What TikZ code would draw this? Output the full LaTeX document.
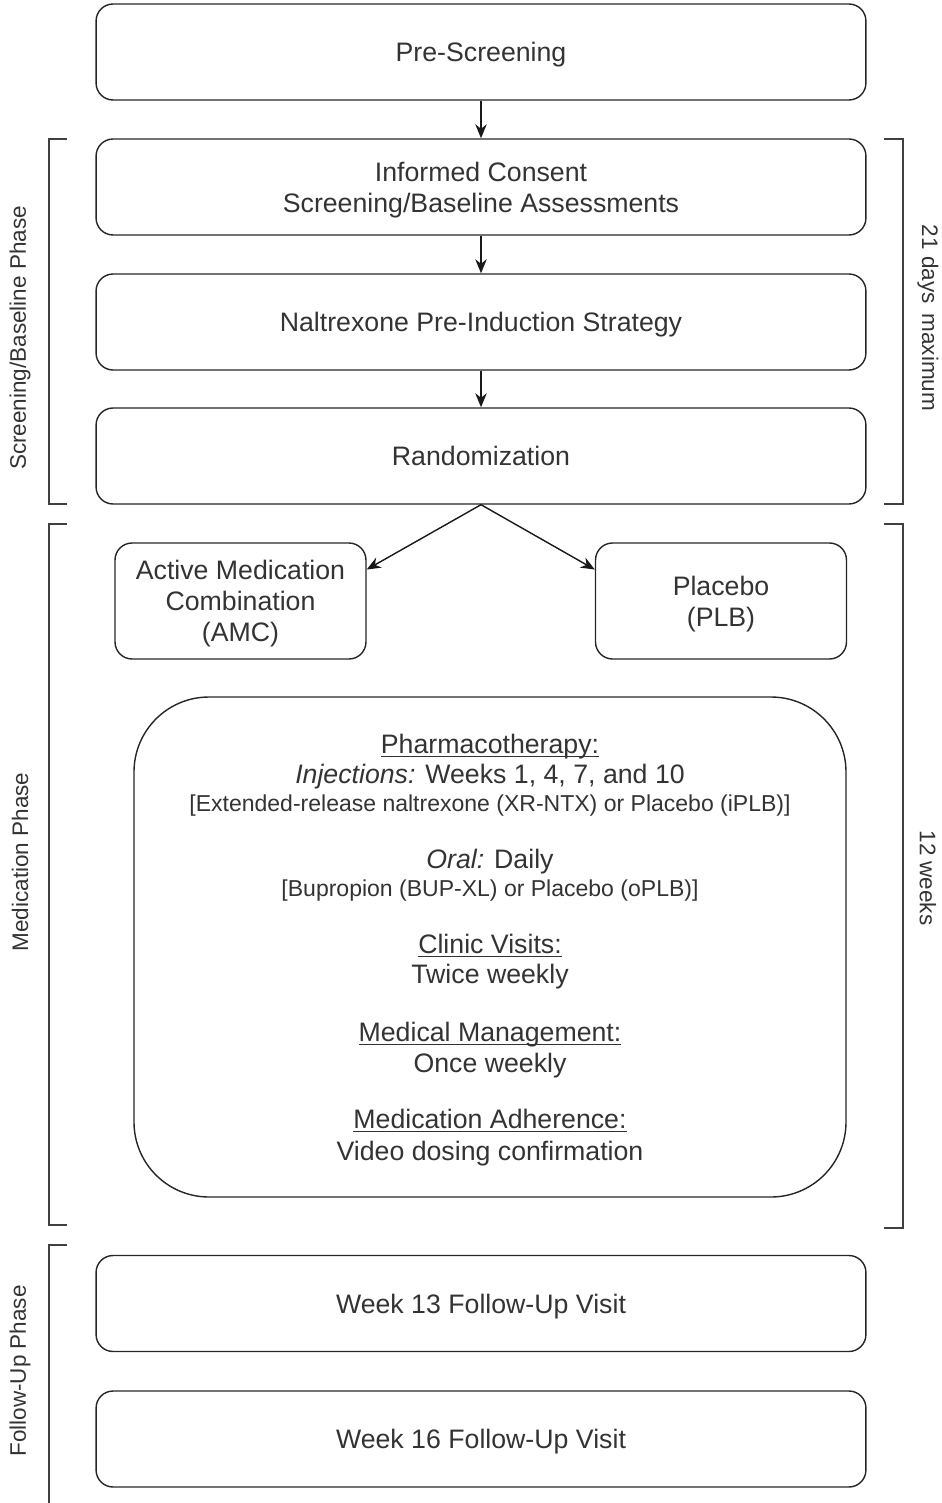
\documentclass[tikz,border=0pt]{standalone}
\usepackage{fontspec}
\setmainfont{Liberation Sans}
\usetikzlibrary{positioning, arrows.meta}

\tikzset{
  stepbox/.style={draw=black!85, line width=0.8pt, rounded corners=0.34cm,
    minimum width=15.4cm, minimum height=1.92cm, align=center, text depth=0pt,
    text=black!80, font=\fontsize{15.2}{17.6}\selectfont},
  armbox/.style={stepbox, minimum width=5.02cm, minimum height=2.32cm},
  infotext/.style={text=black!80, text depth=0pt, font=\fontsize{15.2}{17.6}\selectfont},
  infosmall/.style={text=black!80, text depth=0pt, font=\fontsize{13.1}{15}\selectfont},
  phase/.style={text=black!80, font=\fontsize{12.8}{15}\selectfont},
  brace/.style={draw=black!75, line width=0.9pt},
  flow/.style={draw=black!90, line width=0.8pt, -{Stealth[length=8pt,width=6.5pt]}}
}
\newcommand{\ulabel}[1]{\underline{\smash{#1}}\vphantom{#1}}

\begin{document}
\begin{tikzpicture}[x=0.02cm, y=-0.02cm]
  \useasboundingbox (0,0) rectangle (942,1503);

  % main boxes
  \node[stepbox] (pre) at (481,52) {Pre-Screening};
  \node[stepbox] (consent) at (481,187) {Informed Consent\\Screening/Baseline Assessments};
  \node[stepbox] (induct) at (481,322) {Naltrexone Pre-Induction Strategy};
  \node[stepbox] (random) at (481,456) {Randomization};
  \node[armbox] (amc) at (240.5,601) {Active Medication\\Combination\\(AMC)};
  \node[armbox] (plb) at (721,601) {Placebo\\(PLB)};
  \node[stepbox] (wk13) at (481,1303.5) {Week 13 Follow-Up Visit};
  \node[stepbox] (wk16) at (481,1439) {Week 16 Follow-Up Visit};

  % treatment box
  \draw[draw=black!85, line width=0.8pt, rounded corners=1.5cm] (134,697) rectangle (846,1197);
  \node[infotext] (pharm) at (490,744) {\ulabel{Pharmacotherapy:}};
  \node[infotext] (inj) at (490,774) {\textit{Injections:} Weeks 1, 4, 7, and 10};
  \node[infosmall] (injdet) at (490,803) {[Extended-release naltrexone (XR-NTX) or Placebo (iPLB)]};
  \node[infotext] (oral) at (490,859) {\textit{Oral:} Daily};
  \node[infosmall] (oraldet) at (490,888) {[Bupropion (BUP-XL) or Placebo (oPLB)]};
  \node[infotext] (clinic) at (490,944) {\ulabel{Clinic Visits:}};
  \node[infotext] (clinicfreq) at (490,974) {Twice weekly};
  \node[infotext] (mm) at (490,1032) {\ulabel{Medical Management:}};
  \node[infotext] (mmfreq) at (490,1063) {Once weekly};
  \node[infotext] (adh) at (490,1119) {\ulabel{Medication Adherence:}};
  \node[infotext] (adhdet) at (490,1151) {Video dosing confirmation};

  % arrows
  \draw[flow] (pre) -- (consent);
  \draw[flow] (consent) -- (induct);
  \draw[flow] (induct) -- (random);
  \draw[flow] (random.south) -- (amc.14);
  \draw[flow] (random.south) -- (plb.166);

  % phase brackets
  \draw[brace] (67,139) -- (49,139) -- (49,504) -- (67,504);
  \draw[brace] (67,524) -- (49,524) -- (49,1225) -- (67,1225);
  \draw[brace] (67,1245) -- (49,1245) -- (49,1503);
  \draw[brace] (884,139) -- (903,139) -- (903,504) -- (884,504);
  \draw[brace] (884,524) -- (903,524) -- (903,1228) -- (884,1228);

  \node[phase, rotate=90] (screenph) at (20,338) {Screening/Baseline Phase};
  \node[phase, rotate=90] (medph) at (20,862) {Medication Phase};
  \node[phase, rotate=90] (followph) at (20,1371) {Follow-Up Phase};
  \node[phase, rotate=-90] (maxdays) at (928,318) {21 days\, maximum};
  \node[phase, rotate=-90] (weeks) at (928,878) {12 weeks};
\end{tikzpicture}
\end{document}
